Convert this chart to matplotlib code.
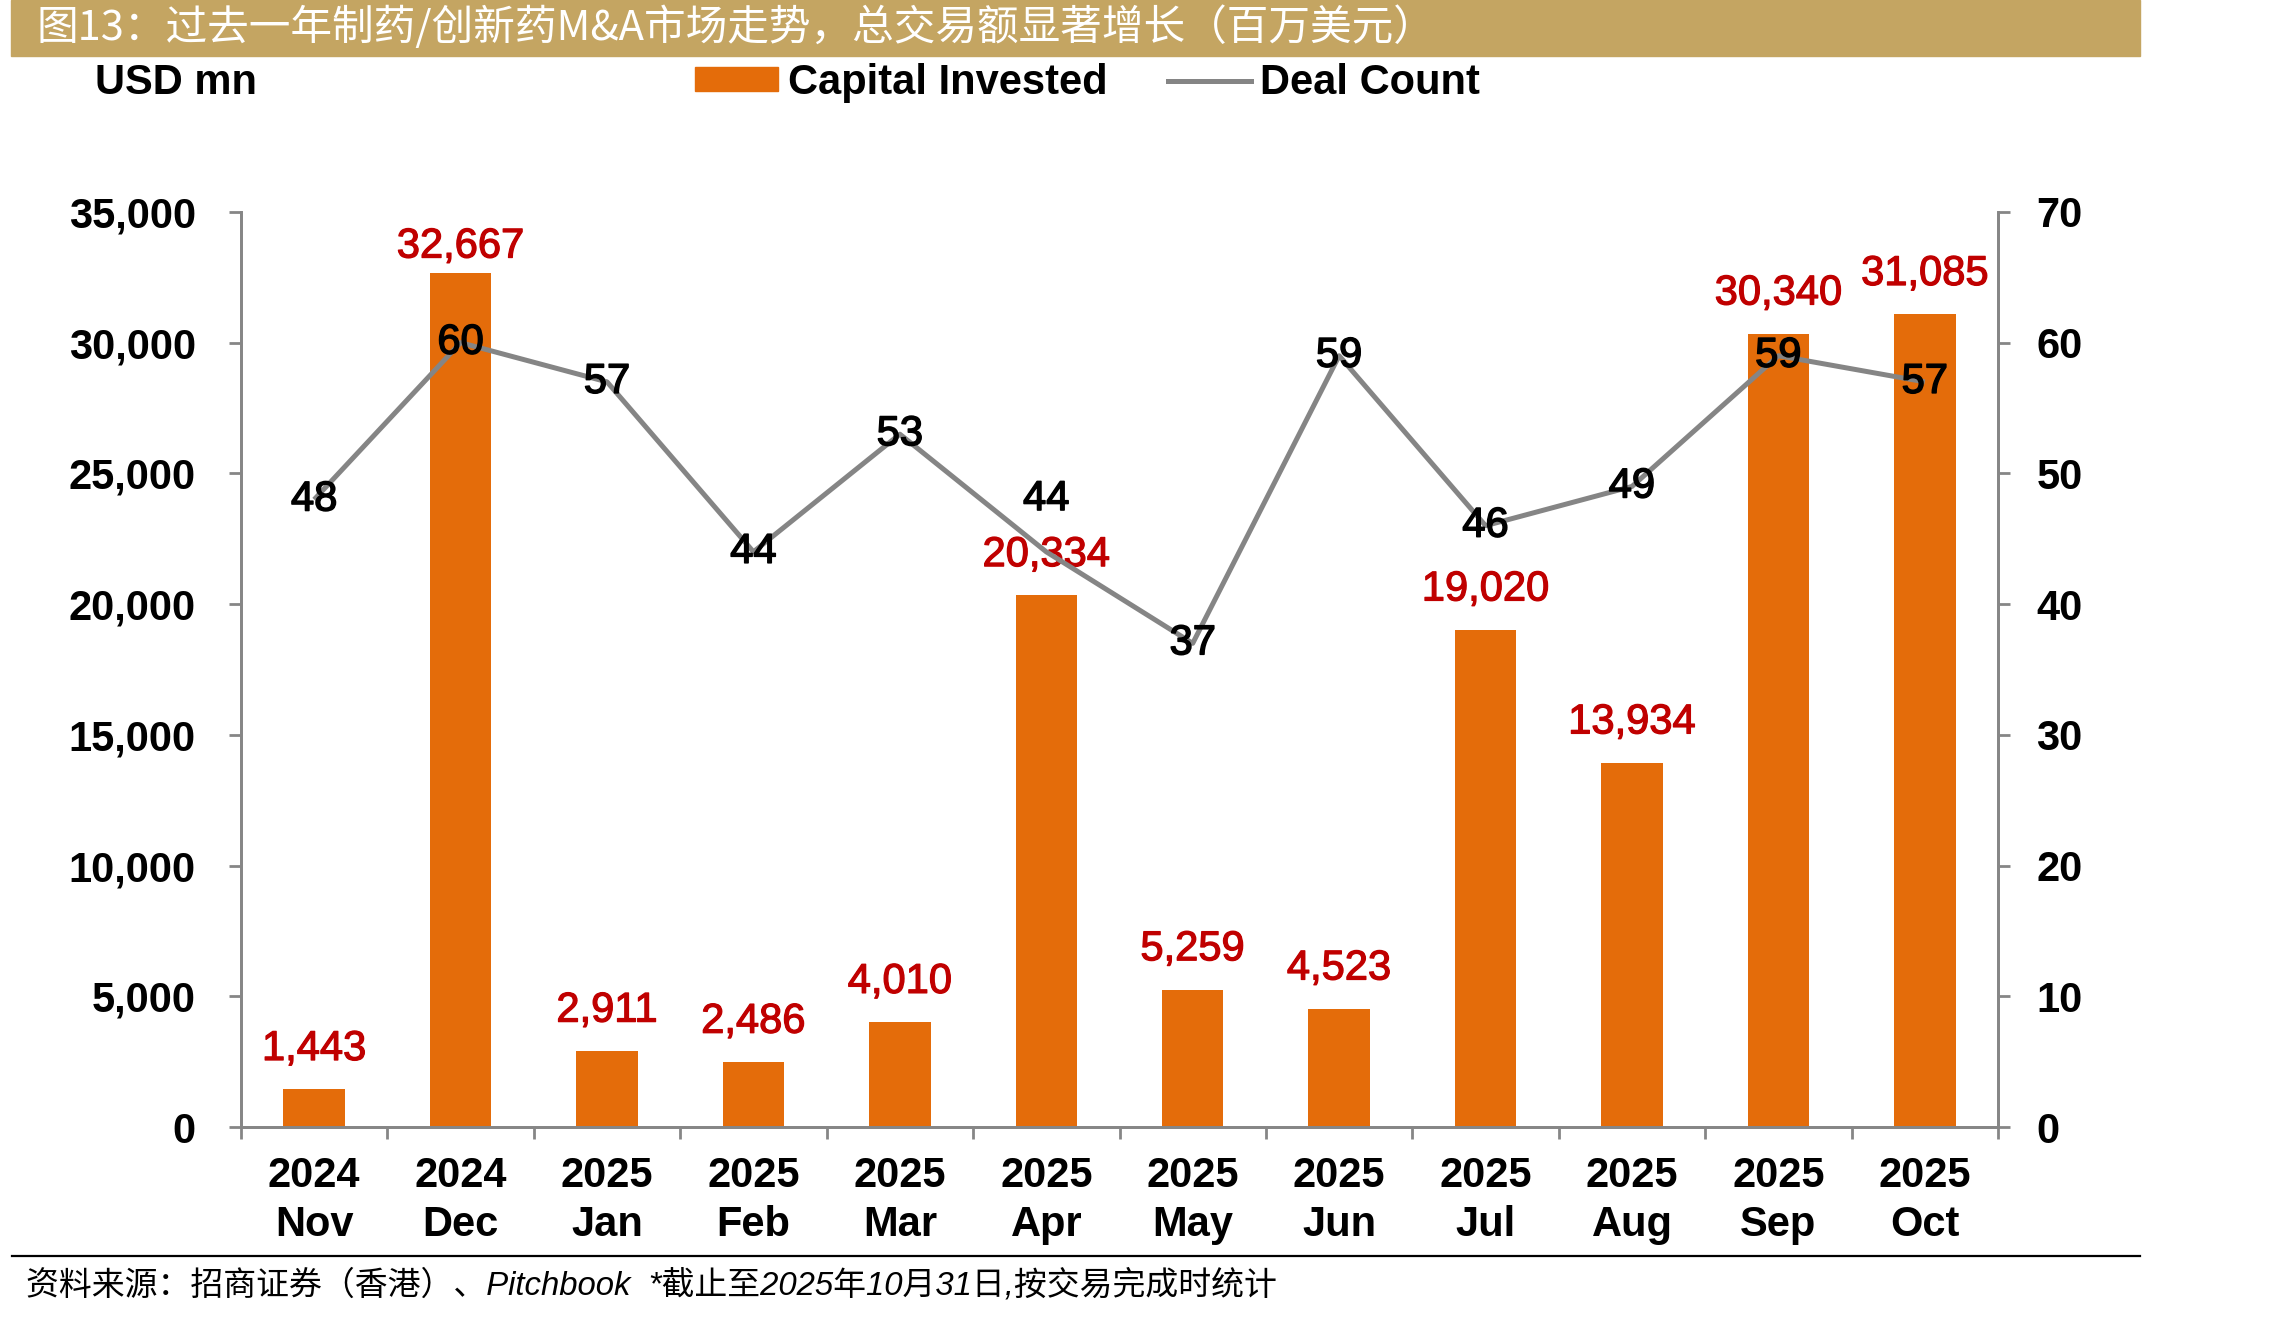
import matplotlib
matplotlib.use("Agg")
import matplotlib.pyplot as plt
import matplotlib.patheffects as pe
from matplotlib.patches import Rectangle
from matplotlib.lines import Line2D
from matplotlib.ticker import FuncFormatter, FixedLocator

# data
years = ["2024", "2024", "2025", "2025", "2025", "2025",
         "2025", "2025", "2025", "2025", "2025", "2025"]
months = ["Nov", "Dec", "Jan", "Feb", "Mar", "Apr",
          "May", "Jun", "Jul", "Aug", "Sep", "Oct"]
capital = [1443, 32667, 2911, 2486, 4010, 20334,
           5259, 4523, 19020, 13934, 30340, 31085]
deals = [48, 60, 57, 44, 53, 44, 37, 59, 46, 49, 59, 57]

title = "图13：过去一年制药/创新药M&A市场走势，总交易额显著增长（百万美元）"
source = "资料来源：招商证券（香港）、Pitchbook  *截止至2025年10月31日,按交易完成时统计"

BAR = "#E46C0A"
RED = "#C00000"
GREY = "#868686"
LINE = "#858585"
GOLD = "#C4A562"
FS = 30

plt.rcParams["font.family"] = ["Liberation Sans", "Noto Sans CJK SC"]

fig = plt.figure(figsize=(22.95, 13.18), dpi=100)
ax = fig.add_axes([0.105, 0.1449, 0.7656, 0.6943])
ax2 = ax.twinx()

x = list(range(len(capital)))
bars = ax.bar(x, capital, width=0.42, color=BAR, zorder=2)
line, = ax2.plot(x, deals, color=LINE, lw=3.6, zorder=3,
                 solid_capstyle="butt")

ax.set_xlim(-0.5, len(x) - 0.5)
ax.set_ylim(0, 35000)
ax2.set_ylim(0, 70)
ax.set_yticks(range(0, 35001, 5000))
ax2.set_yticks(range(0, 71, 10))
ax.yaxis.set_major_formatter(FuncFormatter(lambda v, p: f"{int(v):,}"))

ax.set_xticks(x)
ax.set_xticklabels([f"{y}\n{m}" for y, m in zip(years, months)],
                   linespacing=1.28)
ax.xaxis.set_minor_locator(FixedLocator([i - 0.5 for i in range(len(x) + 1)]))

for a in (ax, ax2):
    a.spines["top"].set_visible(False)
    for s in ("left", "right", "bottom"):
        a.spines[s].set_color(GREY)
        a.spines[s].set_linewidth(2.0)
ax.tick_params(axis="x", which="major", length=0, pad=21, labelsize=FS)
ax.tick_params(axis="x", which="minor", length=8.5, width=2.0, color=GREY)
ax.tick_params(axis="y", length=8.5, width=2.0, color=GREY, pad=24, labelsize=FS)
ax2.tick_params(axis="y", length=8.5, width=2.0, color=GREY, pad=19, labelsize=FS)
for lab in ax.get_xticklabels() + ax.get_yticklabels() + ax2.get_yticklabels():
    lab.set_fontweight("bold")

# red value labels above the bars
bar_offset = {1: 19}
for i, v in enumerate(capital):
    ax.annotate(f"{v:,}", (i, v), xytext=(0, bar_offset.get(i, 29)),
                textcoords="offset points", ha="center", va="center",
                color=RED, fontsize=FS, zorder=4,
                path_effects=[pe.withStroke(linewidth=0.9, foreground=RED)])

# deal count labels sit on the points
deal_offset = {5: 38}
for i, v in enumerate(deals):
    ax2.annotate(str(v), (i, v), xytext=(0, deal_offset.get(i, 0)),
                 textcoords="offset points", ha="center", va="center",
                 color="black", fontsize=FS, zorder=5,
                 path_effects=[pe.withStroke(linewidth=1.1, foreground="black")])

# title bar
fig.patches.append(Rectangle((11 / 2295, 1 - 56 / 1318), 2129 / 2295, 56 / 1318,
                             transform=fig.transFigure, color=GOLD, zorder=0))
fig.text(37 / 2295, 1 - 27 / 1318, title, color="white", fontsize=30,
         va="center", ha="left", family=["Noto Sans CJK SC"])

fig.text(95 / 2295, 1 - 83 / 1318, "USD mn", fontsize=FS, fontweight="bold",
         va="center", ha="left")

handles = [Rectangle((0, 0), 1, 1, color=BAR),
           Line2D([], [], color=LINE, lw=3.6)]
leg = fig.legend(handles, ["Capital Invested", "Deal Count"], ncol=2,
                 loc="center left", bbox_to_anchor=(695 / 2295, 1 - 83 / 1318),
                 frameon=False, fontsize=FS, handlelength=2.0, handleheight=0.5,
                 handletextpad=0.22, columnspacing=1.45, borderpad=0, borderaxespad=0)
for t in leg.get_texts():
    t.set_fontweight("bold")

# footer
fig.add_artist(Line2D([12 / 2295, 2140 / 2295], [1 - 1256 / 1318] * 2,
                      transform=fig.transFigure, color="black", lw=1.6))
fig.text(26 / 2295, 1 - 1285 / 1318, source, fontsize=23.7, style="italic",
         va="center", ha="left")

fig.savefig("out.png", dpi=100)
